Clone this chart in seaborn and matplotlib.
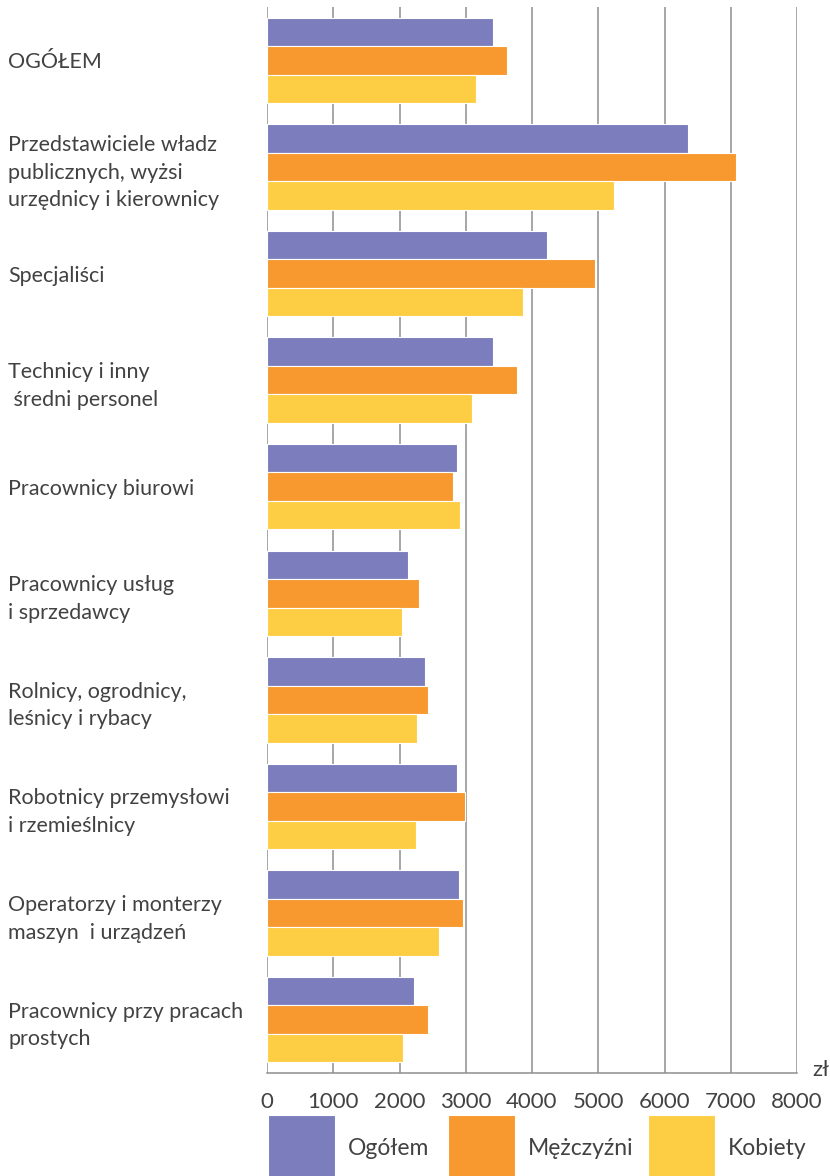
import matplotlib
matplotlib.use("Agg")
import matplotlib.pyplot as plt
import seaborn as sns
import pandas as pd

# Occupational groups (y axis categories)
groups = [
    "OGÓŁEM",
    "Przedstawiciele władz\npublicznych, wyżsi\nurzędnicy i kierownicy",
    "Specjaliści",
    "Technicy i inny\n średni personel",
    "Pracownicy biurowi",
    "Pracownicy usług\ni sprzedawcy",
    "Rolnicy, ogrodnicy,\nleśnicy i rybacy",
    "Robotnicy przemysłowi\ni rzemieślnicy",
    "Operatorzy i monterzy\nmaszyn  i urządzeń",
    "Pracownicy przy pracach\nprostych",
]

# Average gross wages (zł)
ogolem = [3410, 6360, 4230, 3415, 2870, 2135, 2385, 2865, 2895, 2215]
mezczyzni = [3630, 7075, 4955, 3775, 2810, 2295, 2435, 2995, 2960, 2435]
kobiety = [3150, 5235, 3865, 3095, 2920, 2045, 2260, 2245, 2590, 2050]

series_names = ["Ogółem", "Mężczyźni", "Kobiety"]
series_colors = ["#7B7DBC", "#F7992E", "#FDCE43"]
xticks = [0, 1000, 2000, 3000, 4000, 5000, 6000, 7000, 8000]

df = pd.DataFrame({
    "grupa": groups * 3,
    "wartosc": ogolem + mezczyzni + kobiety,
    "seria": [series_names[0]] * len(groups)
    + [series_names[1]] * len(groups)
    + [series_names[2]] * len(groups),
})

sns.set_theme(style="white")
plt.rcParams["font.family"] = ["Lato", "DejaVu Sans"]
text_color = "#424242"
grid_color = "#8e8e8e"
fs = 15.5

W, H = 830, 1176
fig = plt.figure(figsize=(W / 100, H / 100), dpi=100)
ax = fig.add_axes([267 / W, 1 - 1073 / H, 530 / W, 1066 / H])

sns.barplot(
    data=df, y="grupa", x="wartosc", hue="seria",
    hue_order=series_names, palette=series_colors,
    orient="h", width=0.8, saturation=1,
    edgecolor="white", linewidth=0.8, ax=ax,
)

ax.set_xlim(0, 8000)
ax.set_ylim(len(groups) - 0.5, -0.5)
ax.set_xticks(xticks)
ax.set_xticklabels([str(t) for t in xticks], fontsize=16, color=text_color)
ax.tick_params(axis="x", length=0, pad=14)
ax.set_xlabel("")
ax.set_ylabel("")

ax.set_yticks(range(len(groups)))
ax.set_yticklabels(groups, fontsize=fs, color=text_color,
                   ha="left", linespacing=1.47)
ax.tick_params(axis="y", length=0, pad=259 * 0.72)

ax.set_axisbelow(True)
ax.grid(axis="x", color=grid_color, linewidth=1.1)
ax.grid(axis="y", visible=False)
for side in ["top", "right", "left"]:
    ax.spines[side].set_visible(False)
ax.spines["bottom"].set_color(grid_color)
ax.spines["bottom"].set_linewidth(1.1)

fig.text(812 / W, 1 - 1070 / H, "zł", fontsize=16, color=text_color,
         ha="left", va="center")

# Legend: one entry per series, placed along the bottom edge
handles, labels = ax.get_legend_handles_labels()
ax.legend_.remove()
legend_x = [268, 448, 648]
for h, lab, lx in zip(handles, labels, legend_x):
    fig.legend(
        [h], [lab], loc="upper left",
        bbox_to_anchor=(lx / W, 1 - 1115 / H),
        frameon=False, borderpad=0, borderaxespad=0,
        handlelength=67 / 22.9, handleheight=96 / 22.9, handletextpad=0.55,
        prop={"size": 16.5}, labelcolor=text_color,
    )

fig.savefig("out.png", dpi=100)
